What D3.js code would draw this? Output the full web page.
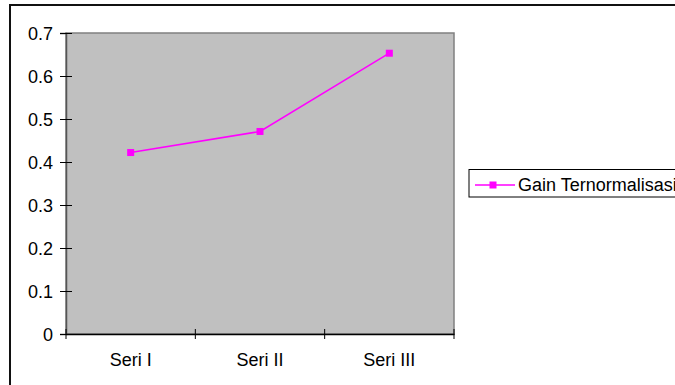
<!DOCTYPE html>
<html><head><meta charset="utf-8">
<script src="https://cdn.jsdelivr.net/npm/d3@7"></script>
<style>body{margin:0;background:#fff}svg{display:block;font-family:"Liberation Sans",Arial,sans-serif}</style>
</head><body>
<svg id="c" width="675" height="385"></svg>
<script>
const categories = ["Seri I", "Seri II", "Seri III"];
const seriesName = "Gain Ternormalisasi";
const values = [0.422, 0.471, 0.653];
const yTicks = [0, 0.1, 0.2, 0.3, 0.4, 0.5, 0.6, 0.7];

const svg = d3.select("#c");
const L = 66, R = 454, T = 33, B = 334;
const FS = 18;

// outer frame
svg.append("path").attr("d", "M10,400 V5 H690").attr("fill", "none").attr("stroke", "#111").attr("stroke-width", 2);

const x = d3.scaleBand().domain(categories).range([L, R]).paddingInner(0).paddingOuter(0);
const y = d3.scaleLinear().domain([0, 0.7]).range([B, T]);

// plot area
svg.append("rect").attr("x", L).attr("y", T).attr("width", R - L).attr("height", B - T)
  .attr("fill", "#c0c0c0").attr("stroke", "#808080").attr("stroke-width", 1.5);

// y axis
const ya = svg.append("g").attr("transform", `translate(${L},0)`)
  .call(d3.axisLeft(y).tickValues(yTicks).tickSize(6).tickPadding(7).tickFormat(d => d === 0 ? "0" : d3.format(".1f")(d)));
ya.attr("font-size", FS).attr("font-family", null);
ya.select(".domain").attr("stroke", "#555").attr("stroke-width", 1.5);
ya.selectAll(".tick line").attr("stroke", "#000").attr("x2", -6).attr("x1", 6);
ya.selectAll("text").attr("fill", "#000").attr("x", -13).attr("dy", "0.36em");

// x axis
const xa = svg.append("g").attr("transform", `translate(0,${B})`)
  .call(d3.axisBottom(x).tickSize(0).tickPadding(0));
xa.attr("font-size", FS).attr("font-family", null);
xa.select(".domain").attr("stroke", "#000").attr("stroke-width", 1.5);
xa.selectAll("text").attr("fill", "#000").attr("y", 32).attr("dy", null);
// category boundary ticks
const bounds = categories.map(c => x(c)).concat([x(categories[categories.length - 1]) + x.bandwidth()]);
svg.append("g").selectAll("line").data(bounds).join("line")
  .attr("x1", d => d).attr("x2", d => d).attr("y1", B - 5).attr("y2", B + 5)
  .attr("stroke", "#000").attr("stroke-width", 1);

// line
const cx = c => x(c) + x.bandwidth() / 2;
const line = d3.line().x((d, i) => cx(categories[i])).y(d => y(d));
svg.append("path").datum(values).attr("d", line).attr("fill", "none").attr("stroke", "#ff00ff").attr("stroke-width", 1.5);
svg.append("g").selectAll("rect").data(values).join("rect")
  .attr("x", (d, i) => cx(categories[i]) - 3.5).attr("y", d => y(d) - 3.5)
  .attr("width", 7).attr("height", 7).attr("fill", "#ff00ff");

// legend
const lg = svg.append("g");
lg.append("rect").attr("x", 469).attr("y", 169.5).attr("width", 230).attr("height", 27.5)
  .attr("fill", "#fff").attr("stroke", "#000").attr("stroke-width", 1);
lg.append("line").attr("x1", 475).attr("x2", 515).attr("y1", 185).attr("y2", 185).attr("stroke", "#ff00ff").attr("stroke-width", 1.5);
lg.append("rect").attr("x", 489.5).attr("y", 181.5).attr("width", 7).attr("height", 7).attr("fill", "#ff00ff");
lg.append("text").attr("x", 518).attr("y", 191).attr("font-size", FS).attr("fill", "#000").text(seriesName);
</script>
</body></html>
